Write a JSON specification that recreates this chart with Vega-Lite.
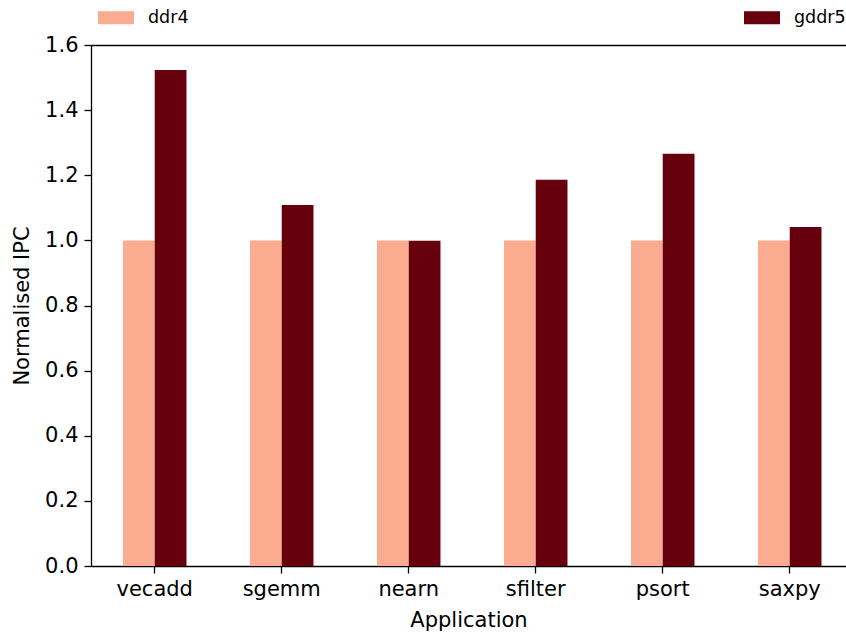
{
  "$schema": "https://vega.github.io/schema/vega-lite/v6.json",
  "autosize": {"type": "none"},
  "width": 755,
  "height": 521,
  "padding": {"left": 91, "top": 45, "right": 0, "bottom": 71},
  "background": "white",
  "config": {
    "font": "DejaVu Sans",
    "view": {"stroke": null},
    "axis": {"labelColor": "black", "titleColor": "black", "domainColor": "black", "tickColor": "black", "labelFont": "DejaVu Sans", "titleFont": "DejaVu Sans", "titleFontWeight": "normal", "grid": false}
  },
  "data": {"values": [
    {"app": "vecadd", "mem": "ddr4", "ipc": 1.0},
    {"app": "vecadd", "mem": "gddr5", "ipc": 1.523},
    {"app": "sgemm", "mem": "ddr4", "ipc": 1.0},
    {"app": "sgemm", "mem": "gddr5", "ipc": 1.109},
    {"app": "nearn", "mem": "ddr4", "ipc": 1.0},
    {"app": "nearn", "mem": "gddr5", "ipc": 0.999},
    {"app": "sfilter", "mem": "ddr4", "ipc": 1.0},
    {"app": "sfilter", "mem": "gddr5", "ipc": 1.186},
    {"app": "psort", "mem": "ddr4", "ipc": 1.0},
    {"app": "psort", "mem": "gddr5", "ipc": 1.266},
    {"app": "saxpy", "mem": "ddr4", "ipc": 1.0},
    {"app": "saxpy", "mem": "gddr5", "ipc": 1.041}
  ]},
  "layer": [
    {
      "mark": {"type": "bar"},
      "encoding": {
        "x": {"field": "app", "type": "nominal", "sort": ["vecadd", "sgemm", "nearn", "sfilter", "psort", "saxpy"],
          "scale": {"paddingInner": 0.5, "paddingOuter": 0.2224, "align": 0.566},
          "axis": {"orient": "bottom", "title": "Application", "labelAngle": 0, "labelFontSize": 21, "titleFontSize": 21, "tickSize": 7, "labelPadding": 5, "titlePadding": 10, "domainWidth": 1.3, "tickWidth": 1.3}},
        "xOffset": {"field": "mem", "type": "nominal", "scale": {"paddingInner": 0, "paddingOuter": 0}},
        "y": {"field": "ipc", "type": "quantitative", "scale": {"domain": [0, 1.6], "nice": false},
          "axis": {"title": "Normalised IPC", "values": [0, 0.2, 0.4, 0.6, 0.8, 1.0, 1.2, 1.4, 1.6], "format": ".1f", "labelFontSize": 21, "titleFontSize": 21, "tickSize": 7, "labelPadding": 6, "titlePadding": 12, "domainWidth": 1.3, "tickWidth": 1.3}},
        "color": {"field": "mem", "type": "nominal",
          "scale": {"domain": ["ddr4", "gddr5"], "range": ["#fbab8f", "#67000d"]},
          "legend": {"title": null, "orient": "none", "direction": "horizontal", "legendX": 7, "legendY": -45.5,
            "symbolType": "M-1,-0.36L1,-0.36L1,0.36L-1,0.36Z", "symbolSize": 1296, "symbolStrokeWidth": 0,
            "labelFontSize": 17.5, "labelOffset": 14, "columnPadding": 555, "labelColor": "black", "labelFont": "DejaVu Sans"}}
      }
    },
    {
      "mark": {"type": "bar", "opacity": 0},
      "encoding": {
        "x": {"field": "app", "type": "nominal", "sort": ["vecadd", "sgemm", "nearn", "sfilter", "psort", "saxpy"],
          "axis": {"orient": "top", "title": null, "labels": false, "ticks": false, "domain": true, "domainWidth": 1.3}},
        "y": {"field": "ipc", "type": "quantitative"}
      }
    }
  ],
  "resolve": {"axis": {"x": "independent"}}
}
